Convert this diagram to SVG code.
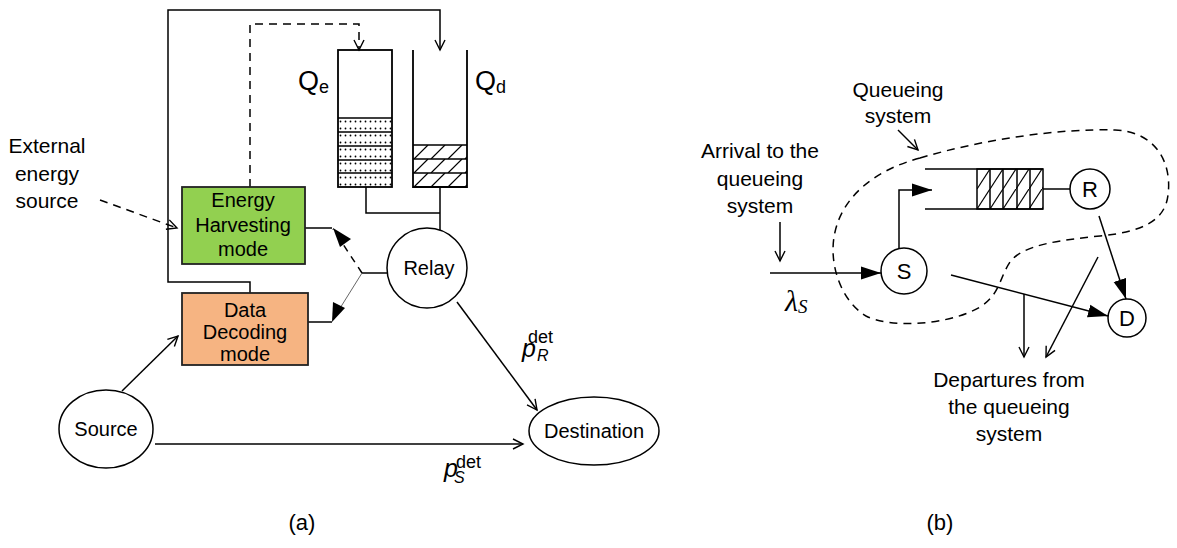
<svg xmlns="http://www.w3.org/2000/svg" width="1177" height="548" viewBox="0 0 1177 548">
<style>
  .ln{fill:none;stroke:#000;stroke-width:1.5}
  .dash{fill:none;stroke:#000;stroke-width:1.5;stroke-dasharray:8,6}
  .t{font-family:"Liberation Sans",Arial,sans-serif;fill:#000}
  .box{stroke:#222;stroke-width:1.8}
  .nd{fill:#fff;stroke:#000;stroke-width:1.5}
</style>
<defs>
  <marker id="open" markerUnits="userSpaceOnUse" markerWidth="14" markerHeight="14" refX="11" refY="6" orient="auto">
    <path d="M1,1 L11,6 L1,11" fill="none" stroke="#000" stroke-width="1.4"/>
  </marker>
  <marker id="fill" markerUnits="userSpaceOnUse" markerWidth="24" markerHeight="16" refX="20" refY="8" orient="auto">
    <path d="M0,1.5 L20,8 L0,14.5 Z" fill="#000"/>
  </marker>
  <pattern id="dots" patternUnits="userSpaceOnUse" x="338" y="118" width="5" height="7">
    <circle cx="2.5" cy="3.5" r="0.9" fill="#000"/>
  </pattern>
  <pattern id="hatchA" patternUnits="userSpaceOnUse" x="413" y="145" width="17" height="14">
    <path d="M1,14 L15,0" stroke="#000" stroke-width="1.2"/>
  </pattern>
  <pattern id="hatchB" patternUnits="userSpaceOnUse" x="977" y="169" width="13" height="20">
    <path d="M0,20 L13,0" stroke="#000" stroke-width="1.2"/>
  </pattern>
</defs>

<!-- connectors -->
<g id="connectors">
  <polyline class="ln" points="250,293 250,282 168,282 168,10 440,10 440,50" marker-end="url(#open)"/>
  <polyline class="dash" points="250,187 250,24 359,24 359,50" marker-end="url(#open)"/>
  <line class="dash" x1="100" y1="200" x2="177" y2="228" marker-end="url(#open)"/>
  <polyline class="ln" points="366,187 366,213 440,213"/>
  <line class="ln" x1="440" y1="187" x2="440" y2="230"/>
  <polyline class="ln" points="305,228 332,228"/>
  <polyline class="ln" points="308,322 332,322"/>
  <line class="ln" x1="362" y1="273" x2="387" y2="273"/>
  <line x1="362" y1="273" x2="333" y2="229" stroke="#000" stroke-width="1.5" stroke-dasharray="7,6"/>
  <path d="M333,228 L351,239 L340,247 Z" fill="#000"/>
  <line x1="362" y1="273" x2="337" y2="313" stroke="#555" stroke-width="0.9"/>
  <path d="M332,322 L333,302 L345,308 Z" fill="#000"/>
  <line class="ln" x1="122" y1="391" x2="178" y2="336" marker-end="url(#open)"/>
  <line class="ln" x1="155" y1="444" x2="523" y2="444" marker-end="url(#open)"/>
  <line class="ln" x1="457" y1="302" x2="537" y2="410" marker-end="url(#open)"/>

  <path class="dash" d="M920,158 C980,140 1060,128 1115,130 C1158,132 1172,165 1168,195 C1165,222 1140,232 1100,236 C1060,240 1022,245 1010,262 C998,280 1000,300 970,312 C940,325 890,328 866,316 C840,300 828,262 835,232 C843,196 875,170 920,158 Z"/>
  <line class="ln" x1="898" y1="130" x2="918" y2="150" marker-end="url(#open)"/>
  <line class="ln" x1="780" y1="222" x2="780" y2="261" marker-end="url(#open)"/>
  <line class="ln" x1="770" y1="273" x2="881" y2="273" marker-end="url(#fill)"/>
  <polyline class="ln" points="899,249 899,190 932,190" marker-end="url(#fill)"/>
  <line class="ln" x1="1043" y1="189" x2="1070" y2="189"/>
  <line class="ln" x1="1099" y1="216" x2="1126" y2="299" marker-end="url(#fill)"/>
  <line class="ln" x1="951" y1="275" x2="1108" y2="316" marker-end="url(#fill)"/>
  <line class="ln" x1="1024" y1="294" x2="1024" y2="357" marker-end="url(#open)"/>
  <line class="ln" x1="1098" y1="257" x2="1046" y2="357" marker-end="url(#open)"/>
</g>

<g id="Qe">
  <rect x="338" y="118" width="54" height="69" fill="url(#dots)"/>
  <rect x="338" y="50" width="54" height="137" fill="none" stroke="#000" stroke-width="1.8"/>
  <path class="ln" d="M338,118 H392 M338,132 H392 M338,146 H392 M338,160 H392 M338,173 H392"/>
  <text class="t" x="298" y="90" font-size="27">Q<tspan font-size="18" dy="3">e</tspan></text>
</g>

<g id="Qd">
  <rect x="413" y="145" width="54" height="42" fill="url(#hatchA)"/>
  <path d="M413,50 V187 H467 V50" fill="none" stroke="#000" stroke-width="1.8"/>
  <path class="ln" d="M413,145 H467 M413,159 H467 M413,173 H467"/>
  <text class="t" x="475" y="90" font-size="27">Q<tspan font-size="18" dy="3">d</tspan></text>
</g>

<g id="energy-harvesting">
  <rect class="box" x="182" y="187" width="123" height="77" fill="#92D050"/>
  <text class="t" font-size="20" text-anchor="middle"><tspan x="243" y="207">Energy</tspan><tspan x="243" y="232">Harvesting</tspan><tspan x="243" y="256">mode</tspan></text>
</g>

<g id="data-decoding">
  <rect class="box" x="182" y="293" width="126" height="72" fill="#F6B482"/>
  <text class="t" font-size="20" text-anchor="middle"><tspan x="245" y="317">Data</tspan><tspan x="245" y="339">Decoding</tspan><tspan x="245" y="361">mode</tspan></text>
</g>

<g id="relay">
  <circle class="nd" cx="427" cy="268" r="40"/>
  <text class="t" x="429" y="275" font-size="20" text-anchor="middle">Relay</text>
</g>

<g id="source">
  <ellipse class="nd" cx="106" cy="429" rx="47" ry="39"/>
  <text class="t" x="106" y="436" font-size="20" text-anchor="middle">Source</text>
</g>

<g id="destination">
  <ellipse class="nd" cx="594" cy="431" rx="65" ry="34"/>
  <text class="t" x="594" y="438" font-size="20" text-anchor="middle">Destination</text>
</g>

<g id="labels-a">
  <text class="t" font-size="21" text-anchor="middle"><tspan x="47" y="153">External</tspan><tspan x="47" y="181">energy</tspan><tspan x="47" y="208">source</tspan></text>
  <text class="t" x="522" y="357" font-size="25" font-style="italic">p<tspan x="528" y="343" font-size="18" font-style="normal">det</tspan><tspan x="537" y="361" font-size="16">R</tspan></text>
  <text class="t" x="444" y="477" font-size="25" font-style="italic">p<tspan x="456" y="468" font-size="18" font-style="normal">det</tspan><tspan x="454" y="483" font-size="16">S</tspan></text>
  <text class="t" x="302" y="530" font-size="22" text-anchor="middle">(a)</text>
</g>

<g id="queue-b">
  <rect x="977" y="169" width="66" height="40" fill="url(#hatchB)" stroke="#000" stroke-width="1.5"/>
  <path class="ln" d="M925,169 H1043 M925,209 H1043 M990,169 V209 M1003,169 V209 M1017,169 V209 M1030,169 V209"/>
</g>
<g id="S">
  <circle class="nd" cx="904" cy="271" r="23"/>
  <text class="t" x="904" y="279" font-size="22" text-anchor="middle">S</text>
</g>
<g id="R">
  <circle class="nd" cx="1090" cy="189" r="20"/>
  <text class="t" x="1090" y="197" font-size="22" text-anchor="middle">R</text>
</g>
<g id="D">
  <circle class="nd" cx="1127" cy="318" r="19"/>
  <text class="t" x="1127" y="326" font-size="22" text-anchor="middle">D</text>
</g>
<g id="labels-b">
  <text class="t" font-size="21" text-anchor="middle"><tspan x="898" y="97">Queueing</tspan><tspan x="898" y="123">system</tspan></text>
  <text class="t" font-size="21" text-anchor="middle"><tspan x="760" y="158">Arrival to the</tspan><tspan x="760" y="186">queueing</tspan><tspan x="760" y="213">system</tspan></text>
  <text class="t" font-size="21" text-anchor="middle"><tspan x="1009" y="387">Departures from</tspan><tspan x="1009" y="414">the queueing</tspan><tspan x="1009" y="441">system</tspan></text>
  <text x="785" y="311" font-family="'Liberation Serif','Times New Roman',serif" font-size="30" font-style="italic">λ<tspan font-size="19" dy="2">S</tspan></text>
  <text class="t" x="940" y="530" font-size="22" text-anchor="middle">(b)</text>
</g>
</svg>
